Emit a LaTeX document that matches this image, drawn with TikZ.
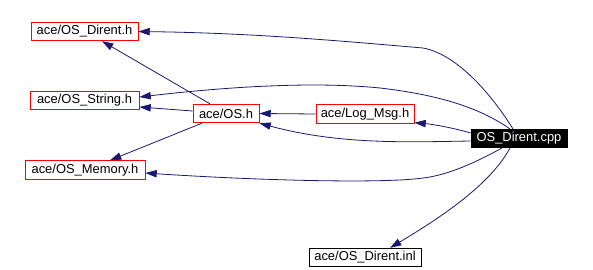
\documentclass[tikz,border=0pt]{standalone}
\usepackage{fontspec}
\setmainfont{Liberation Sans}
\usetikzlibrary{arrows.meta,calc}
\definecolor{edgeblue}{HTML}{191970}
\begin{document}
\begin{tikzpicture}[x=0.75pt,y=-0.75pt,
  font=\fontsize{9.7pt}{11pt}\selectfont,
  file/.style={draw=red,line width=0.6pt,inner sep=0pt,minimum height=13.9pt,text=black},
  plain/.style={draw=black,line width=0.6pt,inner sep=0pt,minimum height=13.9pt,text=black},
  root/.style={fill=black,draw=black,inner sep=0pt,minimum height=13.9pt,text=white},
  dep/.style={draw=edgeblue,line width=0.6pt,-{Triangle[length=8.5pt,width=5.5pt]}}]
\useasboundingbox (0,0) rectangle (593,270);

% headers and sources
\node[file,minimum width=80.25pt] (dirh) at (84.5,31.5) {ace/OS\_Dirent.h};
\node[file,minimum width=81.75pt] (strh) at (84.5,100.5) {ace/OS\_String.h};
\node[file,minimum width=90pt] (memh) at (85,170) {ace/OS\_Memory.h};
\node[file,minimum width=49.5pt] (osh) at (226,113.5) {ace/OS.h};
\node[file,minimum width=73.5pt] (logh) at (365,114) {ace/Log\_Msg.h};
\node[root,minimum width=72pt] (cpp) at (519,138.5) {OS\_Dirent.cpp};
\node[plain,minimum width=84pt] (inl) at (365,257.5) {ace/OS\_Dirent.inl};

% includes of OS_Dirent.cpp
\draw[dep] ($(cpp.north)+(-6,0)$) .. controls (495,100) and (460,55) .. (423,48)
  .. controls (330,40) and (250,33) .. (dirh.east);
\draw[dep] ($(cpp.north)+(-9,0)$) .. controls (480,108) and (440,95) .. (380,88)
  .. controls (300,80) and (200,90) .. ($(strh.east)+(0,-3.5)$);
\draw[dep] ($(cpp.west)+(0,2.5)$) .. controls (410,142) and (340,145) .. (osh.south east);
\draw[dep] ($(cpp.west)+(0,-5.5)$) .. controls (450,127) and (430,124) .. ($(logh.south east)+(0,-1)$);
\draw[dep] ($(cpp.south)+(-17,0)$) .. controls (480,160) and (450,175) .. (423,178)
  .. controls (380,184) and (250,180) .. ($(memh.east)+(0,3)$);
\draw[dep] ($(cpp.south)+(-9,0)$) .. controls (490,185) and (440,218) .. ($(inl.north)+(25,0)$);

% includes of ace/Log_Msg.h and ace/OS.h
\draw[dep] (logh.west) -- (osh.east);
\draw[dep] ($(osh.north)+(-16,0)$) -- ($(dirh.south)+(17.5,0)$);
\draw[dep] ($(osh.west)+(0,-2.5)$) -- ($(strh.east)+(0,6.5)$);
\draw[dep] ($(osh.south)+(-24,0)$) -- ($(memh.north)+(25,0)$);
\end{tikzpicture}
\end{document}
